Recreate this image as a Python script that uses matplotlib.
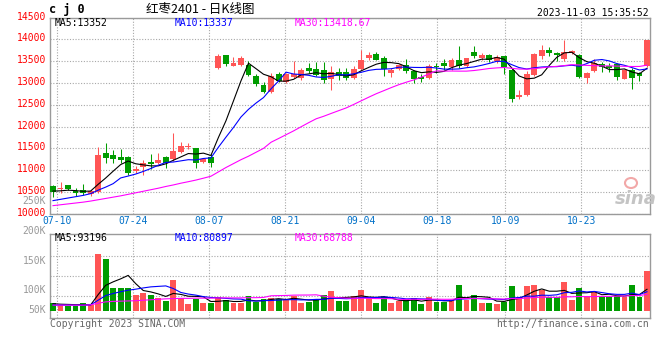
import numpy as np
import matplotlib
matplotlib.use('Agg')
import matplotlib.pyplot as plt
from matplotlib import transforms
from matplotlib.patches import Ellipse

# daily bars 2023-07-07 .. 2023-11-03 (80 trading days)
opens = [10635, 10560, 10660, 10530, 10545, 10450, 10500, 11390, 11345, 11307,
         11307, 10970, 11080, 11190, 11160, 11300, 11245, 11420, 11520, 11500,
         11190, 11300, 13349, 13640, 13400, 13417, 13425, 13172, 12966, 12790,
         13203, 13020, 13135, 13110, 13350, 13333, 13300, 13096, 13250, 13250,
         13119, 13326, 13570, 13678, 13570, 13219, 13326, 13403, 13272, 13142,
         13119, 13387, 13456, 13364, 13540, 13387, 13708, 13570, 13639, 13501,
         13616, 13310, 12690, 12722, 13180, 13616, 13754, 13685, 13563, 13692,
         13646, 13119, 13272, 13448, 13402, 13440, 13096, 13310, 13219, 13395]
highs = [10655, 10730, 10665, 10585, 10680, 10545, 11535, 11628, 11460, 11490,
         11320, 11090, 11230, 11375, 11400, 11320, 11860, 11645, 11630, 11510,
         11290, 11375, 13670, 13640, 13600, 13630, 13495, 13218, 13020, 13234,
         13250, 13234, 13517, 13350, 13460, 13486, 13486, 13387, 13350, 13350,
         13400, 13769, 13708, 13710, 13616, 13340, 13440, 13555, 13295, 13203,
         13448, 13463, 13555, 13570, 13845, 13570, 13845, 13692, 13670, 13654,
         13631, 13349, 12836, 13272, 13692, 13868, 13822, 13708, 13998, 13769,
         13670, 13264, 13555, 13479, 13463, 13463, 13330, 13349, 13249, 13998]
lows = [10390, 10470, 10545, 10415, 10430, 10415, 10470, 11170, 11170, 11170,
        10900, 10925, 10895, 11015, 11130, 11055, 11210, 11400, 11475, 11055,
        11160, 11080, 13325, 13387, 13387, 13400, 13172, 12928, 12760, 12760,
        13035, 13005, 13110, 13065, 13235, 13157, 13005, 12850, 13065, 13080,
        13100, 13310, 13540, 13520, 13157, 13142, 13300, 13219, 13004, 13035,
        13096, 13219, 13310, 13310, 13349, 13364, 13578, 13540, 13486, 13463,
        13196, 12561, 12622, 12699, 13157, 13555, 13616, 13502, 13502, 13670,
        13111, 13004, 13264, 13257, 13249, 13081, 13096, 12867, 13043, 13372]
closes = [10490, 10575, 10565, 10470, 10470, 10520, 11345, 11285, 11261, 11231,
          10925, 11030, 11160, 11145, 11230, 11160, 11437, 11550, 11530, 11170,
          11265, 11170, 13616, 13440, 13455, 13570, 13195, 12989, 12798, 13172,
          13058, 13203, 13196, 13310, 13280, 13195, 13080, 13250, 13172, 13120,
          13326, 13540, 13639, 13540, 13326, 13295, 13425, 13272, 13104, 13096,
          13387, 13364, 13387, 13524, 13387, 13570, 13616, 13639, 13524, 13593,
          13364, 12622, 12705, 13196, 13670, 13754, 13692, 13639, 13708, 13738,
          13134, 13234, 13463, 13364, 13349, 13134, 13310, 13111, 13157, 13983]
# volume in thousands of lots
volumes = [31.5, 24.4, 21.5, 21.5, 33, 23, 245, 222, 97.4, 97.4,
           97.4, 67.4, 74.5, 67.4, 54.5, 43, 132, 53, 28.7, 51.6,
           33, 31.5, 57.3, 44.4, 31.5, 34.4, 63, 37.3, 50, 56,
           51.6, 46, 63, 31.5, 37, 51.6, 66, 84.5, 41.6, 41.6,
           63, 88.8, 60, 33, 57.3, 33, 41.6, 48.7, 53, 28.7,
           57.3, 38.7, 38.7, 45.9, 110, 45.9, 65.9, 33, 33, 28.7,
           38.7, 106, 57.3, 106, 110, 88.8, 57.3, 57.3, 123, 45.9,
           97.4, 63, 80, 57.3, 57.3, 63, 57.3, 110, 60, 170]

# moving-average values before a full window is on screen
ma5_head = [10520, 10525, 10540, 10530]
ma10_head = [10300, 10330, 10360, 10390, 10420, 10460, 10540, 10610, 10690]
ma30_head = [10185, 10205, 10225, 10245, 10265, 10290, 10320, 10350, 10380, 10410,
             10445, 10480, 10515, 10550, 10585, 10625, 10660, 10700, 10735, 10772,
             10815, 10860, 10960, 11060, 11150, 11240, 11320, 11410, 11500]
vma5_head = [30, 28, 27, 26]
vma10_head = [24, 24, 24, 24, 24, 25, 45, 65, 74]
vma30_head = [24, 24, 24, 24, 24, 25, 32, 38, 40, 41, 42, 43, 45, 47, 49,
              51, 52, 53, 53, 54, 54, 54, 55, 55, 55, 55, 56, 56, 57]

tick_idx = [1, 11, 21, 31, 41, 51, 60, 70]
tick_labels = ['07-10', '07-24', '08-07', '08-21', '09-04', '09-18', '10-09', '10-23']
price_ticks = [10000, 10500, 11000, 11500, 12000, 12500, 13000, 13500, 14000, 14500]
vol_grid = [64.5, 150.5, 236.5]
vol_labels = ['200K', '150K', '100K', '50K']
vol_label_pos = [1.036, 0.679, 0.333, 0.095]

legend_price = ['MA5:13352', 'MA10:13337', 'MA30:13418.67']
legend_vol = ['MA5:93196', 'MA10:80897', 'MA30:68788']
ma_colors = ['black', '#0000ff', '#ff00ff']

RED = '#ff5555'
GREEN = '#009c00'
GRID = '#a8a8a8'
FRAME = '#9a9a9a'


def moving_avg(vals, n, head):
    vals = np.asarray(vals, dtype=float)
    tail = np.convolve(vals, np.ones(n) / n, mode='valid')
    return np.concatenate([head, tail])


plt.rcParams['font.family'] = ['DejaVu Sans Mono']
W, H = 660, 360
fig = plt.figure(figsize=(W / 100, H / 100), dpi=100)


def fx(px):
    return px / W


def fy(py):
    return 1 - py / H


x = np.arange(len(closes))
o = np.array(opens, float)
c = np.array(closes, float)
colors = [RED if cc >= oo else GREEN for oo, cc in zip(o, c)]
grid_x = (np.array(tick_idx) * 7.6 - 3.6) / 7.52

# ---- price panel
ax = fig.add_axes([fx(50), fy(213.7), fx(600), 196 / H])
ax.vlines(x, lows, highs, colors=colors, lw=0.75, zorder=3)
body_bot = np.minimum(o, c)
body_h = np.maximum(np.abs(c - o), 25)
ax.bar(x, body_h, bottom=body_bot, width=0.78, color=colors, lw=0, zorder=4)

ma_lines = [moving_avg(closes, 5, ma5_head), moving_avg(closes, 10, ma10_head),
            moving_avg(closes, 30, ma30_head)]
for line, col in zip(ma_lines, ma_colors):
    ax.plot(x, line, color=col, lw=0.8, zorder=5)

ax.set_xlim(-0.4, 79.4)
ax.set_ylim(10000, 14500)
ax.set_yticks(price_ticks)
ax.set_yticklabels([str(t) for t in price_ticks])
ax.set_xticks(grid_x)
ax.set_xticklabels(tick_labels)
ax.tick_params(axis='y', length=0, pad=3, labelsize=7, labelcolor='#ff0000')
ax.tick_params(axis='x', length=0, pad=1.5, labelsize=7, labelcolor='#0070c8')
ax.grid(True, color=GRID, ls=(0, (1, 1.5)), lw=0.8)
for s in ax.spines.values():
    s.set_color(FRAME)
    s.set_linewidth(1)
up = transforms.ScaledTranslation(0, 2 / 100, fig.dpi_scale_trans)
for lab in ax.get_yticklabels():
    lab.set_transform(lab.get_transform() + up)
ax.text(-0.0067, 0.065, '250K', transform=ax.transAxes, ha='right', va='center',
        fontsize=7, color='#999999')

for txt, xp, col in zip(legend_price, [55, 175, 295], ma_colors):
    fig.text(fx(xp), fy(22.7), txt, fontsize=7, color=col, va='center', ha='left')

# sina watermark
fig.text(fx(636), fy(199), 'sina', fontsize=13, style='italic', weight='bold',
         color='#c4c4c4', ha='center', va='center', family='DejaVu Sans')
fig.patches.append(Ellipse((fx(631), fy(183)), 12 / W, 10 / H, transform=fig.transFigure,
                           facecolor='none', edgecolor='#f2a8a8', lw=1.5))

# ---- volume panel
axv = fig.add_axes([fx(50), fy(318), fx(600), 84 / H])
axv.bar(x, volumes, width=0.78, color=colors, lw=0, zorder=3)
vol_lines = [moving_avg(volumes, 5, vma5_head), moving_avg(volumes, 10, vma10_head),
             moving_avg(volumes, 30, vma30_head)]
for line, col in zip(vol_lines, ma_colors):
    axv.plot(x, line, color=col, lw=0.8, zorder=4)
axv.set_xlim(-0.4, 79.4)
axv.set_ylim(-31.4, 329.8)
axv.set_yticks(vol_grid)
axv.set_yticklabels([])
axv.set_xticks(grid_x)
axv.set_xticklabels([])
axv.tick_params(length=0)
axv.grid(True, color=GRID, ls=(0, (1, 1.5)), lw=0.8)
for s in axv.spines.values():
    s.set_color(FRAME)
    s.set_linewidth(1)
for lab, pos in zip(vol_labels, vol_label_pos):
    axv.text(-0.0067, pos, lab, transform=axv.transAxes, ha='right', va='center',
             fontsize=7, color='#999999')
for txt, xp, col in zip(legend_vol, [55, 175, 295], ma_colors):
    fig.text(fx(xp), fy(238.3), txt, fontsize=7, color=col, va='center', ha='left')

# ---- header / footer
fig.text(fx(49), fy(10), 'c j 0', fontsize=8.5, weight='bold', va='center', ha='left')
fig.text(fx(200), fy(10), '红枣2401 - 日K线图', fontsize=9, va='center', ha='center',
         family=['Noto Sans CJK SC', 'DejaVu Sans'])
fig.text(fx(649), fy(12.5), '2023-11-03 15:35:52', fontsize=7, va='center', ha='right')
fig.text(fx(50), fy(324), 'Copyright 2023 SINA.COM', fontsize=7, color='#666666',
         va='center', ha='left')
fig.text(fx(649), fy(324), 'http://finance.sina.com.cn', fontsize=7, color='#666666',
         va='center', ha='right')

fig.savefig('out.png', dpi=100, facecolor='white')
